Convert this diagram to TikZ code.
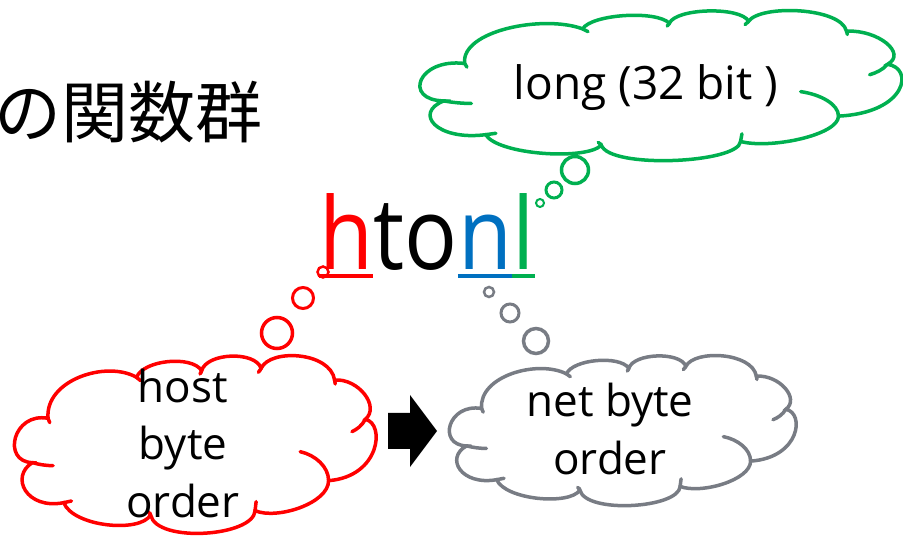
\documentclass[tikz,border=0pt]{standalone}
\usepackage{fontspec}
\setmainfont{Open Sans}
\newfontfamily\jpfont{Noto Sans CJK JP}
\usetikzlibrary{calc}
\definecolor{HostRed}{RGB}{255,0,0}
\definecolor{NetBlue}{RGB}{0,112,192}
\definecolor{LongGreen}{RGB}{0,176,80}
\definecolor{NetGray}{RGB}{120,124,132}

% cloud in a unit box: top left (#1,#2), width #3, height #4, colour #5
\newcommand{\pptcloud}[5]{%
  \begin{scope}[shift={(#1,#2)}, x={(#3pt,0pt)}, y={(0pt,-#4pt)}]
    \draw[cloudline, #5, fill=white]
      (0.0963,0.3519) .. controls (0.0872,0.1389) and (0.2569,0.0278) .. (0.3394,0.1241)
      .. controls (0.3578,0.0278) and (0.4908,0) .. (0.5183,0.0870)
      .. controls (0.5321,-0.0130) and (0.6651,-0.0241) .. (0.6817,0.0741)
      .. controls (0.7064,-0.0370) and (0.8716,-0.0185) .. (0.8835,0.1389)
      .. controls (0.9495,0.1296) and (1.0092,0.2870) .. (0.9679,0.3574)
      .. controls (1.0229,0.3796) and (1.0092,0.6759) .. (0.8670,0.6981)
      .. controls (0.8670,0.8241) and (0.7248,0.9167) .. (0.6651,0.8648)
      .. controls (0.6606,1.0093) and (0.3945,1.0463) .. (0.3780,0.8889)
      .. controls (0.3486,0.9907) and (0.1651,0.9537) .. (0.1394,0.8204)
      .. controls (0.0367,0.8611) and (-0.0092,0.6759) .. (0.0532,0.5981)
      .. controls (-0.0321,0.5926) and (0,0.3148) .. cycle;
    % inner curls
    \draw[cloudline, #5]
      (0.0532,0.5981) .. controls (0.0734,0.6093) and (0.0917,0.6148) .. (0.1101,0.6148)
      (0.9679,0.3574) .. controls (0.9587,0.3926) and (0.9450,0.4130) .. (0.9312,0.4259)
      (0.8670,0.6981) .. controls (0.8670,0.6204) and (0.8303,0.5556) .. (0.7890,0.5370)
      (0.6651,0.8648) -- (0.6679,0.8148)
      (0.1394,0.8204) -- (0.1606,0.8111)
      (0.0963,0.3519) -- (0.1009,0.3759)
      (0.3394,0.1241) -- (0.3505,0.1426)
      (0.8835,0.1389) -- (0.8853,0.1611)
      (0.6817,0.0741) -- (0.6743,0.0963)
      (0.3780,0.8889) -- (0.3716,0.8704)
      (0.5183,0.0870) -- (0.5138,0.1056);
  \end{scope}}

\begin{document}
\begin{tikzpicture}[x=1pt, y=-1pt,
    cloudline/.style={line width=3.5pt, line cap=round},
    bubble/.style={circle, draw, inner sep=0pt},
    word/.style={inner sep=0pt, anchor=base west, xscale=0.88, font=\fontsize{100}{100}\selectfont},
    talk/.style={align=center, inner sep=0pt, font=\fontsize{44}{57.5}\selectfont}]
    \clip (0,0) rectangle (903,537);

    % Title
    \node[anchor=east, inner sep=0pt, font=\jpfont\fontsize{67}{67}\selectfont] (title) at (263,112) {の関数群};

    % Clouds
    \pptcloud{418}{10}{485}{152}{LongGreen}
    \pptcloud{13}{355}{364}{180}{HostRed}
    \pptcloud{448}{355}{349}{152}{NetGray}

    % Bubbles
    \node[bubble, HostRed, line width=3.5pt, minimum size=31pt] (hb1) at (277,333) {};
    \node[bubble, HostRed, line width=3pt, minimum size=21pt] (hb2) at (303,298) {};
    \node[bubble, HostRed, line width=2.5pt, minimum size=11pt] (hb3) at (323,272) {};
    \node[bubble, NetGray, line width=3.5pt, minimum size=25pt] (nb1) at (536,341) {};
    \node[bubble, NetGray, line width=3pt, minimum size=18pt] (nb2) at (510,313) {};
    \node[bubble, NetGray, line width=2.5pt, minimum size=10pt] (nb3) at (489,292) {};
    \node[bubble, LongGreen, line width=3.5pt, minimum size=27pt] (lb1) at (575,170) {};
    \node[bubble, LongGreen, line width=3pt, minimum size=16pt] (lb2) at (554,190) {};
    \node[bubble, LongGreen, line width=2pt, minimum size=8pt] (lb3) at (540,203) {};

    % htonl
    \node[word, text=HostRed] (h) at (319,270) {h};
    \node[word] (to) at (h.base east) {to};
    \node[word, text=NetBlue] (n) at (to.base east) {n};
    \node[word, text=LongGreen] (l) at (n.base east) {l};
    \draw[HostRed, line width=4pt] ($(h.base west)+(0,6)$) -- ($(h.base east)+(0,6)$);
    \draw[NetBlue, line width=4pt] ($(n.base west)+(0,6)$) -- ($(n.base east)+(0,6)$);
    \draw[LongGreen, line width=4pt] ($(l.base west)+(0,6)$) -- ($(l.base east)+(0,6)$);

    % Texts
    \node[inner sep=0pt, anchor=base, font=\fontsize{46}{46}\selectfont] (long) at (646,100) {long (32 bit )};
    \node[talk] (host) at (183,443) {host\\byte\\order};
    \node[talk] (net) at (610,429) {net byte\\order};

    % Arrow
    \fill (388,413) -- (410,413) -- (410,395) -- (437,431) -- (410,467) -- (410,449) -- (388,449) -- cycle;
\end{tikzpicture}
\end{document}
